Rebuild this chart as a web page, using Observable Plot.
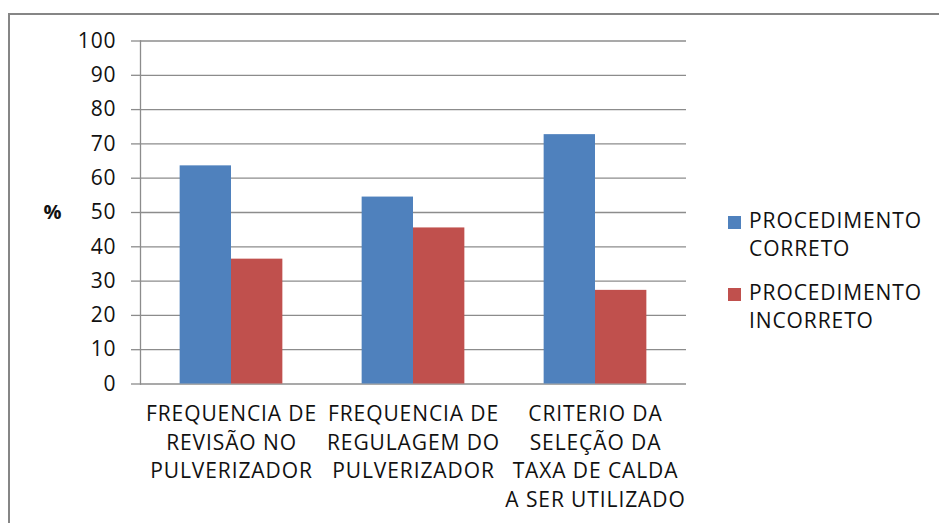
<!DOCTYPE html>
<html>
<head>
<meta charset="utf-8">
<script src="https://cdn.jsdelivr.net/npm/d3@7"></script>
<script src="https://cdn.jsdelivr.net/npm/@observablehq/plot@0.6"></script>
<style>
  html, body { margin: 0; padding: 0; background: #fff; }
  #wrap { position: relative; width: 939px; height: 523px; overflow: hidden; background: #fff; font-family: "Open Sans", sans-serif; }
  #border { position: absolute; left: 8px; top: 13px; width: 1000px; height: 600px; border: 2px solid #868686; box-sizing: border-box; }
  #chart { position: absolute; left: 0; top: 0; }
  #legend { position: absolute; left: 728px; top: 207px; color: #111; font-size: 21px; letter-spacing: 0.9px; line-height: 27.5px; }
  .item { display: flex; align-items: flex-start; margin-bottom: 17px; }
  .sw { width: 13px; height: 13px; margin-top: 9px; margin-right: 8px; flex: none; }
</style>
</head>
<body>
<div id="wrap">
  <div id="border"></div>
  <div id="chart"></div>
  <div id="legend"></div>
</div>
<script>
const categories = [
  "FREQUENCIA DE\nREVISÃO NO\nPULVERIZADOR",
  "FREQUENCIA DE\nREGULAGEM DO\nPULVERIZADOR",
  "CRITERIO DA\nSELEÇÃO DA\nTAXA DE CALDA\nA SER UTILIZADO"
];
const series = ["PROCEDIMENTO CORRETO", "PROCEDIMENTO INCORRETO"];
const legendLines = [["PROCEDIMENTO", "CORRETO"], ["PROCEDIMENTO", "INCORRETO"]];
const correto = [63.6, 54.5, 72.7];
const incorreto = [36.4, 45.5, 27.3];
const yTicks = [0, 10, 20, 30, 40, 50, 60, 70, 80, 90, 100];
const colors = ["#4F81BD", "#C0504D"];

const data = categories.flatMap((c, i) => [
  {category: c, series: series[0], value: correto[i]},
  {category: c, series: series[1], value: incorreto[i]}
]);

const gridColor = "#8c8c8c";

const chart = Plot.plot({
  width: 939,
  height: 523,
  marginLeft: 140,
  marginRight: 253,
  marginTop: 40.5,
  marginBottom: 139.5,
  style: {fontFamily: "'Open Sans', sans-serif", fontSize: "21px", color: "#111", background: "transparent", letterSpacing: "0.9px"},
  fx: {domain: categories, padding: 0, label: null},
  x: {domain: series, paddingInner: 0, paddingOuter: 0.772, axis: null, round: false},
  y: {domain: [0, 100], label: null},
  color: {domain: series, range: colors},
  marks: [
    Plot.ruleY(yTicks, {stroke: gridColor, strokeWidth: 1.3}),
    Plot.barY(data, {fx: "category", x: "series", y: "value", fill: "series"}),
    Plot.frame({anchor: "left", facet: "super", stroke: gridColor, strokeWidth: 1.3}),
    Plot.axisY({ticks: yTicks, tickSize: 9, tickPadding: 15, stroke: gridColor, strokeWidth: 1.3, label: null, fontSize: 21}),
    Plot.axisY({ticks: [50], tickFormat: () => "%", tickSize: 0, tickPadding: 78, fontWeight: "bold", fontSize: 20, label: null}),
    Plot.axisFx({anchor: "bottom", tickSize: 0, tickPadding: 16.5, lineHeight: 1.37, label: null, fontSize: 21})
  ]
});
document.getElementById("chart").appendChild(chart);

const legend = document.getElementById("legend");
series.forEach((s, i) => {
  const item = document.createElement("div");
  item.className = "item";
  const sw = document.createElement("div");
  sw.className = "sw";
  sw.style.background = colors[i];
  const txt = document.createElement("div");
  txt.innerHTML = legendLines[i].join("<br>");
  item.appendChild(sw);
  item.appendChild(txt);
  legend.appendChild(item);
});
</script>
</body>
</html>
